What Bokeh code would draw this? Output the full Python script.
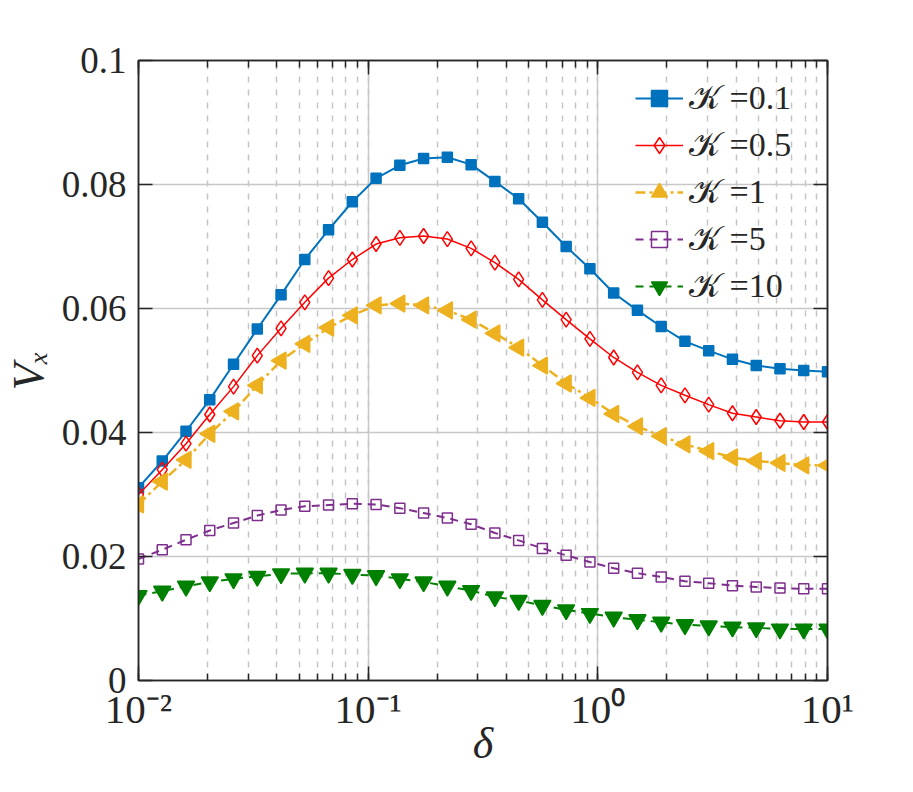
import numpy as np
from bokeh.plotting import figure
from bokeh.models import (LogAxis, LinearAxis, LogTicker, SingleIntervalTicker,
                          CustomJSTickFormatter, Legend, LegendItem)
from bokeh.embed import file_html
from bokeh.resources import INLINE

# ---------------- data ----------------
delta = [0.01, 0.012690, 0.016103, 0.020434, 0.025929, 0.032903, 0.041753, 0.052983,
         0.067234, 0.085317, 0.10826, 0.13738, 0.17433, 0.22122, 0.28072, 0.35622,
         0.45204, 0.57362, 0.72790, 0.92367, 1.1721, 1.4874, 1.8874, 2.3950, 3.0392,
         3.8566, 4.8939, 6.2102, 7.8805, 10.0]

vx_k01 = [0.0311, 0.0354, 0.0402, 0.0453, 0.0510, 0.0567, 0.0622, 0.0679, 0.0727, 0.0772,
          0.0810, 0.0831, 0.0842, 0.0844, 0.0832, 0.0805, 0.0777, 0.0739, 0.0700, 0.0664,
          0.0625, 0.0597, 0.0571, 0.0547, 0.0532, 0.0518, 0.0508, 0.0503, 0.0500, 0.0498]
vx_k05 = [0.0300, 0.0340, 0.0382, 0.0429, 0.0474, 0.0524, 0.0568, 0.0610, 0.0649, 0.0679,
          0.0704, 0.0714, 0.0717, 0.0712, 0.0697, 0.0674, 0.0647, 0.0614, 0.0582, 0.0551,
          0.0521, 0.0497, 0.0476, 0.0460, 0.0445, 0.0431, 0.0425, 0.0419, 0.0417, 0.0417]
vx_k1 = [0.0284, 0.0321, 0.0356, 0.0398, 0.0434, 0.0476, 0.0516, 0.0543, 0.0569, 0.0589,
         0.0605, 0.0608, 0.0605, 0.0597, 0.0582, 0.0560, 0.0537, 0.0508, 0.0479, 0.0456,
         0.0430, 0.0410, 0.0394, 0.0381, 0.0370, 0.0360, 0.0354, 0.0351, 0.0347, 0.0347]
vx_k5 = [0.0196, 0.0211, 0.0227, 0.0242, 0.0254, 0.0266, 0.0275, 0.0281, 0.0283, 0.0285,
         0.0284, 0.0278, 0.0270, 0.0262, 0.0252, 0.0238, 0.0226, 0.0213, 0.0202, 0.0191,
         0.0181, 0.0173, 0.0167, 0.0160, 0.0157, 0.0153, 0.0151, 0.0149, 0.0148, 0.0148]
vx_k10 = [0.0137, 0.0144, 0.0152, 0.0159, 0.0164, 0.0168, 0.0172, 0.0173, 0.0173, 0.0171,
          0.0169, 0.0164, 0.0159, 0.0152, 0.0145, 0.0135, 0.0129, 0.0121, 0.0114, 0.0108,
          0.0102, 0.0098, 0.0094, 0.0090, 0.0088, 0.0086, 0.0085, 0.0083, 0.0083, 0.0083]

labels = ["\U0001D4A6 =0.1", "\U0001D4A6 =0.5", "\U0001D4A6 =1", "\U0001D4A6 =5", "\U0001D4A6 =10"]

# ---------------- figure ----------------
FONT = "Liberation Serif"
TXT = "#262626"

p = figure(frame_width=689, frame_height=620, x_axis_type="log",
           x_range=(0.01, 10), y_range=(0, 0.1),
           output_backend="svg", toolbar_location=None,
           min_border_left=137, min_border_right=70, min_border_top=60, min_border_bottom=100,
           background_fill_color="white", border_fill_color="white")

xt = LogTicker(num_minor_ticks=10)
yt = SingleIntervalTicker(interval=0.02, num_minor_ticks=0)

xfmt = CustomJSTickFormatter(code="""
const sup = {"-": "\u207b", "0": "\u2070", "1": "\u00b9", "2": "\u00b2", "3": "\u00b3",
             "4": "\u2074", "5": "\u2075", "6": "\u2076", "7": "\u2077", "8": "\u2078", "9": "\u2079"};
const e = Math.round(Math.log10(tick));
return "10" + String(e).split("").map(c => sup[c]).join("");
""")
yfmt = CustomJSTickFormatter(code="return Number(tick.toFixed(2)).toString();")
blank = CustomJSTickFormatter(code="return '';")

def style_axis(ax, minor=True):
    ax.axis_line_color = TXT
    ax.axis_line_width = 1.5
    ax.major_tick_line_color = TXT
    ax.major_tick_line_width = 1.5
    ax.major_tick_in = 14
    ax.major_tick_out = 0
    if minor:
        ax.minor_tick_line_color = TXT
        ax.minor_tick_line_width = 1.5
        ax.minor_tick_in = 7
        ax.minor_tick_out = 0
    else:
        ax.minor_tick_line_color = None
    ax.major_label_text_font = FONT
    ax.major_label_text_font_size = "37px"
    ax.major_label_text_color = TXT
    ax.axis_label_text_font = FONT
    ax.axis_label_text_font_size = "44px"
    ax.axis_label_text_font_style = "italic"
    ax.axis_label_text_color = TXT

xa = p.xaxis[0]
xa.ticker = xt
xa.formatter = xfmt
style_axis(xa)
xa.major_label_text_font_size = "41px"
xa.major_label_standoff = 5
xa.axis_label = "\u03b4"
xa.axis_label_standoff = -16

ya = p.yaxis[0]
ya.ticker = yt
ya.formatter = yfmt
style_axis(ya, minor=False)
ya.major_label_standoff = 12
ya.axis_label = "V\u2093"
ya.axis_label_standoff = 6

top = LogAxis(ticker=xt, formatter=blank)
style_axis(top)
p.add_layout(top, "above")
right = LinearAxis(ticker=yt, formatter=blank)
style_axis(right, minor=False)
p.add_layout(right, "right")

p.outline_line_color = TXT
p.outline_line_width = 1.5

p.xgrid.ticker = xt
p.ygrid.ticker = yt
p.xgrid.grid_line_color = "#c8c8c8"
p.xgrid.grid_line_width = 1.5
p.ygrid.grid_line_color = "#c8c8c8"
p.ygrid.grid_line_width = 1.5
p.xgrid.minor_grid_line_color = "#c4c4c4"
p.xgrid.minor_grid_line_width = 1.5
p.xgrid.minor_grid_line_dash = "6 7"

series = [
    dict(y=vx_k01, color="#0072BD", lw=2.0, dash="solid", marker="square", size=10,
         fill=True, angle=0.0),
    dict(y=vx_k05, color="#FF0000", lw=1.5, dash="solid", marker="diamond", size=15,
         fill=False, angle=0.0),
    dict(y=vx_k1, color="#EDB120", lw=2.5, dash="10 4 3 4", marker="triangle", size=17,
         fill=True, angle=np.pi / 2),
    dict(y=vx_k5, color="#7E2F8E", lw=2.0, dash="8 6", marker="square", size=10,
         fill=False, angle=0.0),
    dict(y=vx_k10, color="#008000", lw=2.0, dash="8 6", marker="inverted_triangle", size=17,
         fill=True, angle=0.0),
]

items = []
for s, lab in zip(series, labels):
    r1 = p.line(delta, s["y"], line_color=s["color"], line_width=s["lw"], line_dash=s["dash"])
    r2 = p.scatter(delta, s["y"], marker=s["marker"], size=s["size"], angle=s["angle"],
                   line_color=s["color"], line_width=1.5,
                   fill_color=s["color"], fill_alpha=1.0 if s["fill"] else 0.0)
    items.append(LegendItem(label=lab, renderers=[r1, r2], index=0))

legend = Legend(items=items, location=(497, 374),
                label_text_font=FONT, label_text_font_size="34px", label_text_color=TXT,
                glyph_width=48, glyph_height=40, label_height=40, spacing=7,
                label_standoff=6, padding=0, margin=0,
                border_line_color=None, background_fill_alpha=0)
p.add_layout(legend)

open("out.html", "w").write(file_html(p, INLINE))
